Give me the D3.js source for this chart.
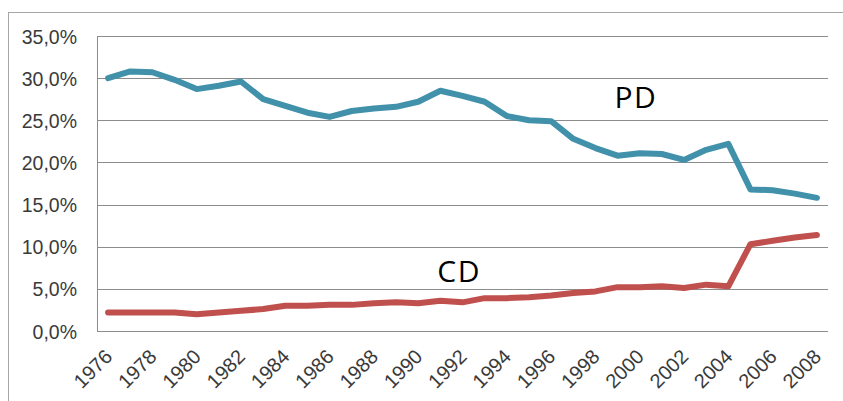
<!DOCTYPE html>
<html><head><meta charset="utf-8">
<script src="https://cdn.jsdelivr.net/npm/d3@7"></script>
<style>body{margin:0;background:#fff}svg{display:block}</style>
</head><body>
<script>
const years = d3.range(1976, 2009).map(String);
const pdValues = [30.0,30.8,30.7,29.8,28.7,29.1,29.6,27.5,26.7,25.9,25.4,26.1,26.4,26.6,27.2,28.5,27.9,27.2,25.5,25.0,24.9,22.8,21.7,20.8,21.1,21.0,20.3,21.5,22.2,16.8,16.7,16.3,15.8];
const cdValues = [2.2,2.2,2.2,2.2,2.0,2.2,2.4,2.6,3.0,3.0,3.1,3.1,3.3,3.4,3.3,3.6,3.4,3.9,3.9,4.0,4.2,4.5,4.7,5.2,5.2,5.3,5.1,5.5,5.3,10.3,10.7,11.1,11.4];
const yTicks = [0,5,10,15,20,25,30,35];
const xTickLabels = years.filter((y,i)=>i%2===0);
const seriesLabels = [{name:"PD", year:"1999", value:26.45},{name:"CD", year:"1991", value:5.8}];

const W=843,H=401;
const svg=d3.select("body").append("svg").attr("width",W).attr("height",H);
svg.append("rect").attr("x",8.5).attr("y",12.5).attr("width",W).attr("height",H).attr("fill","none").attr("stroke","#a6a6a6").attr("stroke-width",1);

const pLeft=97,pRight=828,pTop=36,pBottom=331;
const x=d3.scalePoint().domain(years).range([pLeft,pRight]).padding(0.5);
const y=d3.scaleLinear().domain([0,35]).range([pBottom,pTop]);

const grid=svg.append("g");
grid.selectAll("line").data(yTicks).join("line")
 .attr("x1",pLeft).attr("x2",pRight).attr("y1",d=>Math.round(y(d))+0.5).attr("y2",d=>Math.round(y(d))+0.5)
 .attr("stroke","#8c8c8c").attr("stroke-width",1);
svg.append("line").attr("x1",pLeft+0.5).attr("x2",pLeft+0.5).attr("y1",pTop).attr("y2",pBottom+1).attr("stroke","#8c8c8c");

const yAxis=d3.axisLeft(y).tickValues(yTicks).tickSize(0).tickPadding(20)
 .tickFormat(d=>d3.format(".1f")(d).replace(".",",")+"%");
const ga=svg.append("g").attr("transform",`translate(${pLeft},0)`).call(yAxis);
ga.select(".domain").remove();
ga.selectAll("text").attr("font-family","Liberation Sans, Arial, sans-serif").attr("font-size",19.5).attr("fill","#3a3a3a").attr("dy","0.36em");

const xAxis=d3.axisBottom(x).tickValues(xTickLabels).tickSize(0).tickPadding(0);
const gx=svg.append("g").attr("transform",`translate(0,${pBottom})`).call(xAxis);
gx.select(".domain").remove();
gx.selectAll("text").attr("font-family","Liberation Sans, Arial, sans-serif").attr("font-size",20).attr("fill","#3a3a3a")
 .attr("text-anchor","end").attr("y",null).attr("dy",null)
 .attr("transform","translate(5,27) rotate(-45)");

const line=d3.line().x((d,i)=>x(years[i])).y(d=>y(d));
svg.append("path").datum(pdValues).attr("d",line).attr("fill","none").attr("stroke","#4191ab").attr("stroke-width",6).attr("stroke-linejoin","round").attr("stroke-linecap","round");
svg.append("path").datum(cdValues).attr("d",line).attr("fill","none").attr("stroke","#c0504d").attr("stroke-width",6).attr("stroke-linejoin","round").attr("stroke-linecap","round");

svg.selectAll(".slabel").data(seriesLabels).join("text")
 .attr("x",d=>x(d.year)).attr("y",d=>y(d.value)).attr("dx",-3)
 .attr("font-family","Open Sans, sans-serif").attr("font-size",30).attr("letter-spacing",1.5).attr("fill","#000")
 .text(d=>d.name);
</script>
</body></html>
